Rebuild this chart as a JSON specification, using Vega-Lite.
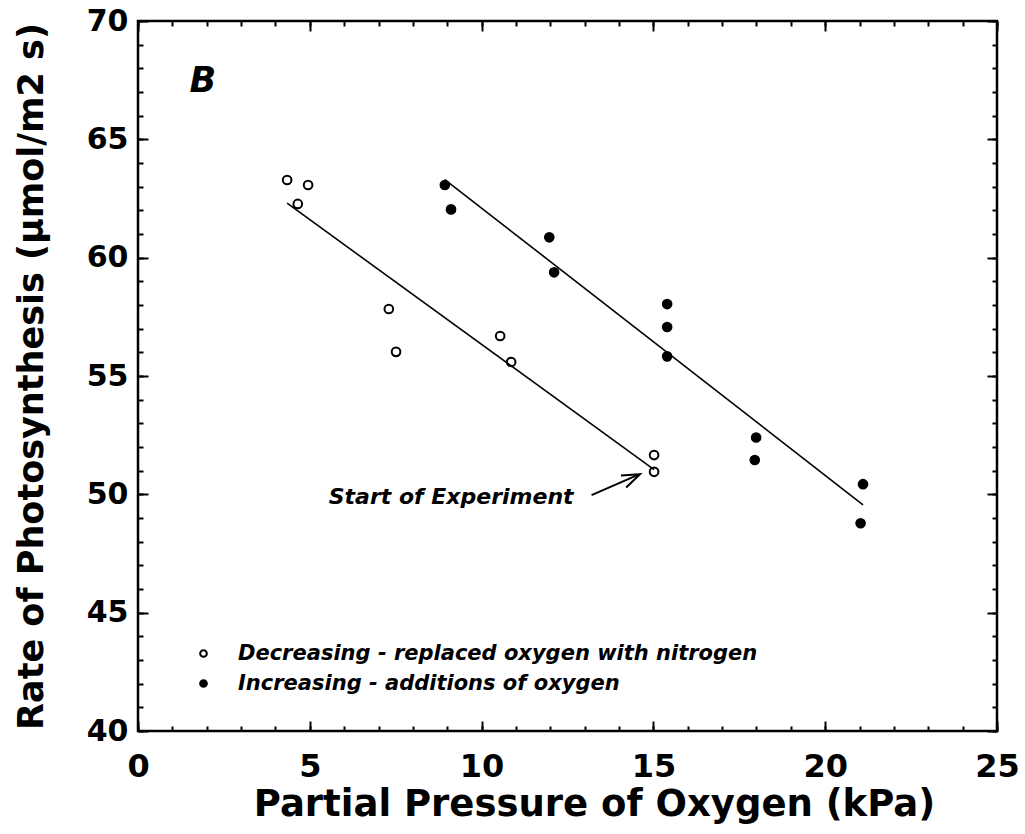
{
  "$schema": "https://vega.github.io/schema/vega-lite/v6.json",
  "width": 859,
  "height": 710,
  "autosize": {"type": "none"},
  "padding": {"left": 138, "top": 21, "right": 28, "bottom": 103},
  "background": "white",
  "config": {
    "font": "DejaVu Sans",
    "view": {"stroke": "black", "strokeWidth": 2.5},
    "axis": {"grid": false, "domain": false, "tickColor": "black", "tickWidth": 2, "labelColor": "black", "titleColor": "black"}
  },
  "data": {
    "values": [
      {"series": "Decreasing - replaced oxygen with nitrogen", "o2": 4.34, "rate": 63.28},
      {"series": "Decreasing - replaced oxygen with nitrogen", "o2": 4.95, "rate": 63.07},
      {"series": "Decreasing - replaced oxygen with nitrogen", "o2": 4.65, "rate": 62.27},
      {"series": "Decreasing - replaced oxygen with nitrogen", "o2": 7.30, "rate": 57.83},
      {"series": "Decreasing - replaced oxygen with nitrogen", "o2": 7.51, "rate": 56.02},
      {"series": "Decreasing - replaced oxygen with nitrogen", "o2": 10.54, "rate": 56.69},
      {"series": "Decreasing - replaced oxygen with nitrogen", "o2": 10.86, "rate": 55.59},
      {"series": "Decreasing - replaced oxygen with nitrogen", "o2": 15.02, "rate": 51.66},
      {"series": "Decreasing - replaced oxygen with nitrogen", "o2": 15.02, "rate": 50.95},
      {"series": "Increasing - additions of oxygen", "o2": 8.93, "rate": 63.07},
      {"series": "Increasing - additions of oxygen", "o2": 9.11, "rate": 62.04},
      {"series": "Increasing - additions of oxygen", "o2": 11.97, "rate": 60.86},
      {"series": "Increasing - additions of oxygen", "o2": 12.11, "rate": 59.38},
      {"series": "Increasing - additions of oxygen", "o2": 15.40, "rate": 58.04},
      {"series": "Increasing - additions of oxygen", "o2": 15.40, "rate": 57.07},
      {"series": "Increasing - additions of oxygen", "o2": 15.40, "rate": 55.83},
      {"series": "Increasing - additions of oxygen", "o2": 17.99, "rate": 52.40},
      {"series": "Increasing - additions of oxygen", "o2": 17.95, "rate": 51.45},
      {"series": "Increasing - additions of oxygen", "o2": 21.10, "rate": 50.43},
      {"series": "Increasing - additions of oxygen", "o2": 21.03, "rate": 48.78}
    ]
  },
  "resolve": {"axis": {"x": "independent", "y": "independent"}},
  "layer": [
    {
      "mark": {"type": "point", "filled": true, "stroke": "black", "strokeWidth": 2, "opacity": 1, "size": 75},
      "encoding": {
        "x": {"field": "o2", "type": "quantitative", "scale": {"domain": [0, 25], "nice": false, "zero": false},
          "axis": {"orient": "bottom", "values": [0, 5, 10, 15, 20, 25], "ticks": false, "tickSize": 0, "labelPadding": 45, "labelBaseline": "alphabetic", "labelFlush": false, "labelOverlap": false, "labelFontSize": 32, "labelFontWeight": "bold", "labelFont": "DejaVu Sans",
            "title": "Partial Pressure of Oxygen (kPa)", "titleFont": "DejaVu Sans", "titleFontSize": 37, "titleFontWeight": "bold", "titleX": 456, "titleY": 84, "titleBaseline": "alphabetic", "titleAlign": "center", "titleAnchor": null}},
        "y": {"field": "rate", "type": "quantitative", "scale": {"domain": [40, 70], "nice": false, "zero": false},
          "axis": {"orient": "left", "values": [40, 45, 50, 55, 60, 65, 70], "ticks": false, "tickSize": 0, "labelPadding": 10, "labelAlign": "right", "labelBaseline": "middle", "labelFlush": false, "labelOverlap": false, "labelFontSize": 30, "labelFontWeight": "bold", "labelFont": "DejaVu Sans",
            "title": "Rate of Photosynthesis (μmol/m2 s)", "titleFont": "DejaVu Sans", "titleFontSize": 35, "titleFontWeight": "bold", "titleAngle": -90, "titleX": -96, "titleY": 355, "titleBaseline": "alphabetic", "titleAlign": "center", "titleAnchor": null}},
        "fill": {"field": "series", "type": "nominal",
          "scale": {"domain": ["Decreasing - replaced oxygen with nitrogen", "Increasing - additions of oxygen"], "range": ["white", "black"]},
          "legend": {"orient": "none", "legendX": 55, "legendY": 622, "title": null, "padding": 0, "labelFont": "DejaVu Sans", "labelFontStyle": "italic", "labelFontWeight": "bold", "labelFontSize": 21, "labelColor": "black", "labelLimit": 800, "labelOffset": 24, "symbolType": "circle", "symbolSize": 45, "symbolStrokeWidth": 2, "symbolStrokeColor": "black", "rowPadding": 8}}
      }
    },
    {
      "transform": [{"regression": "rate", "on": "o2", "groupby": ["series"]}],
      "mark": {"type": "line", "color": "black", "strokeWidth": 1.6},
      "encoding": {
        "x": {"field": "o2", "type": "quantitative", "scale": {"domain": [0, 25], "nice": false, "zero": false},
          "axis": {"orient": "bottom", "values": [0, 5, 10, 15, 20, 25], "labels": false, "tickSize": -10, "title": null}},
        "y": {"field": "rate", "type": "quantitative", "scale": {"domain": [40, 70], "nice": false, "zero": false},
          "axis": {"orient": "left", "values": [40, 45, 50, 55, 60, 65, 70], "labels": false, "tickSize": -10, "title": null}},
        "detail": {"field": "series", "type": "nominal"}
      }
    },
    {
      "data": {"values": [{"label": "B"}]},
      "mark": {"type": "text", "font": "DejaVu Sans", "fontStyle": "italic", "fontWeight": "bold", "fontSize": 35, "align": "left", "baseline": "alphabetic", "color": "black"},
      "encoding": {
        "text": {"field": "label"},
        "x": {"datum": 1.5, "type": "quantitative", "scale": {"domain": [0, 25], "nice": false, "zero": false},
          "axis": {"orient": "bottom", "values": [0,1,2,3,4,5,6,7,8,9,10,11,12,13,14,15,16,17,18,19,20,21,22,23,24,25], "labels": false, "tickSize": -5, "title": null}},
        "y": {"datum": 67.0, "type": "quantitative", "scale": {"domain": [40, 70], "nice": false, "zero": false},
          "axis": {"orient": "left", "values": [40,41,42,43,44,45,46,47,48,49,50,51,52,53,54,55,56,57,58,59,60,61,62,63,64,65,66,67,68,69,70], "labels": false, "tickSize": -5, "title": null}}
      }
    },
    {
      "data": {"values": [{"label": "Start of Experiment"}]},
      "mark": {"type": "text", "font": "DejaVu Sans", "fontStyle": "italic", "fontWeight": "bold", "fontSize": 22, "align": "left", "baseline": "alphabetic", "color": "black"},
      "encoding": {
        "text": {"field": "label"},
        "x": {"datum": 5.55, "type": "quantitative", "scale": {"domain": [0, 25], "nice": false, "zero": false},
          "axis": {"orient": "top", "values": [0, 5, 10, 15, 20, 25], "labels": false, "tickSize": -10, "title": null}},
        "y": {"datum": 49.6, "type": "quantitative", "scale": {"domain": [40, 70], "nice": false, "zero": false},
          "axis": {"orient": "right", "values": [40, 45, 50, 55, 60, 65, 70], "labels": false, "tickSize": -10, "title": null}}
      }
    },
    {
      "data": {"values": [{"label": "arrow"}]},
      "mark": {"type": "rule", "color": "black", "strokeWidth": 2},
      "encoding": {
        "x": {"datum": 13.2, "type": "quantitative", "scale": {"domain": [0, 25], "nice": false, "zero": false},
          "axis": {"orient": "top", "values": [0,1,2,3,4,5,6,7,8,9,10,11,12,13,14,15,16,17,18,19,20,21,22,23,24,25], "labels": false, "tickSize": -5, "title": null}},
        "y": {"datum": 49.97, "type": "quantitative", "scale": {"domain": [40, 70], "nice": false, "zero": false},
          "axis": {"orient": "right", "values": [40,41,42,43,44,45,46,47,48,49,50,51,52,53,54,55,56,57,58,59,60,61,62,63,64,65,66,67,68,69,70], "labels": false, "tickSize": -5, "title": null}},
        "x2": {"datum": 14.55},
        "y2": {"datum": 50.82}
      }
    },
    {
      "data": {"values": [{"label": "arrowhead"}]},
      "mark": {"type": "point", "shape": "M-1,-0.36L0,0L-1,0.36", "filled": false, "stroke": "black", "strokeWidth": 2, "angle": -24, "size": 1300, "opacity": 1},
      "encoding": {
        "x": {"datum": 14.61, "type": "quantitative", "axis": null},
        "y": {"datum": 50.85, "type": "quantitative", "axis": null}
      }
    }
  ]
}
